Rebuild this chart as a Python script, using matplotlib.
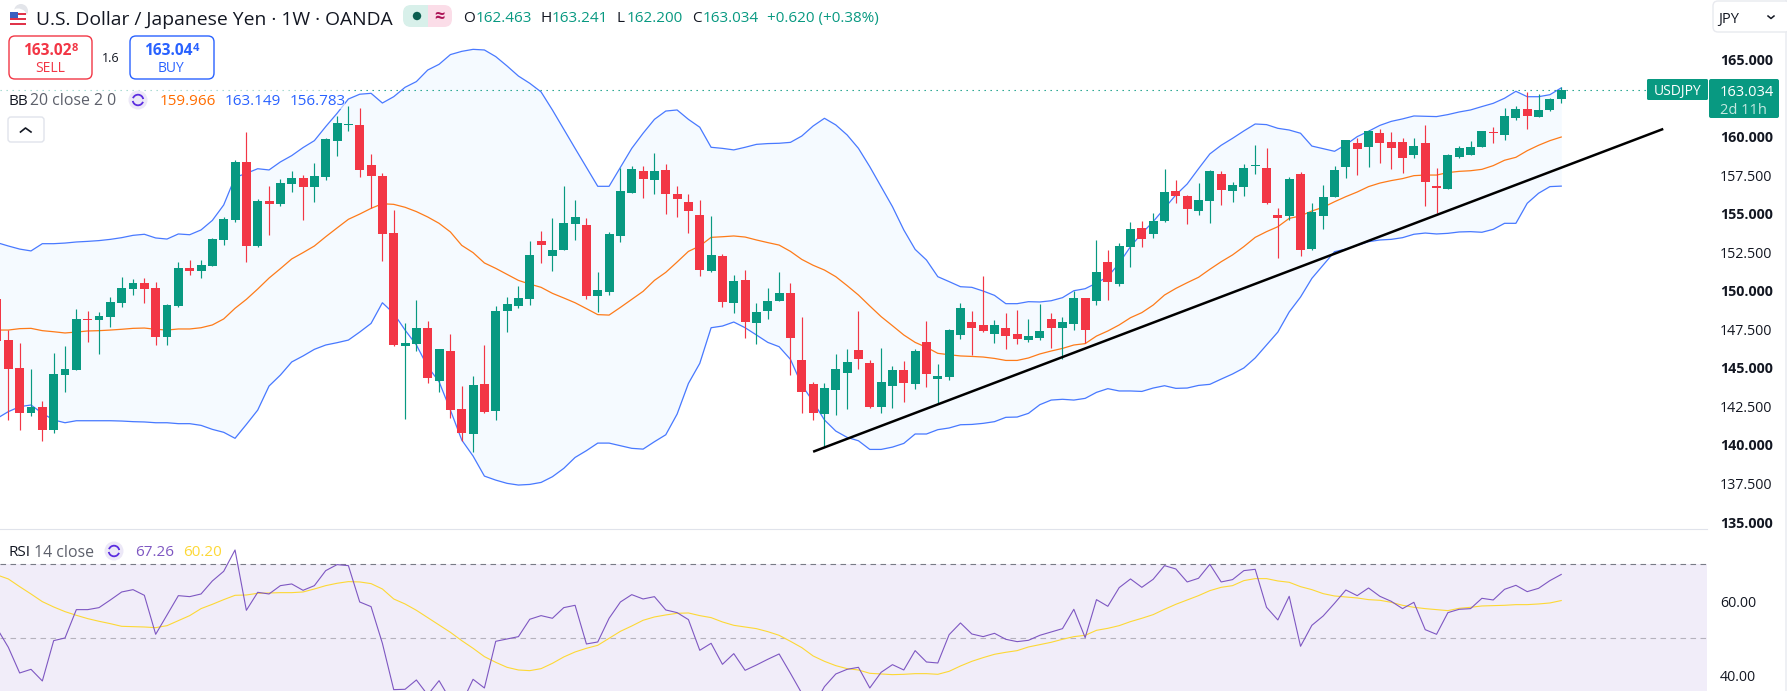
import numpy as np
import matplotlib
matplotlib.use("Agg")
import matplotlib.pyplot as plt
from matplotlib.patches import FancyBboxPatch, Rectangle, Circle, Wedge

# Weekly USD/JPY candles
opens = [149.44,146.80,144.99,142.09,142.46,140.97,144.53,144.86,148.17,148.10,
148.29,149.20,150.11,150.50,150.18,147.00,149.01,151.47,151.28,151.60,
153.29,154.59,158.35,152.90,155.82,155.62,156.92,157.31,156.73,157.37,
159.71,160.75,160.75,158.15,157.44,153.74,146.41,146.54,147.58,144.14,
146.09,142.33,140.71,143.95,142.20,148.68,149.01,149.46,153.22,152.25,
152.64,154.33,154.26,149.66,149.92,153.55,156.34,157.76,157.18,157.83,
156.27,155.75,154.91,151.28,152.25,149.20,150.69,147.91,148.68,149.33,
149.85,145.51,143.95,142.00,143.56,144.66,146.15,145.31,142.46,143.82,
144.86,143.95,146.67,144.27,144.40,147.13,147.97,147.78,147.19,147.58,
147.19,146.80,146.93,148.17,147.58,147.84,149.53,149.33,151.86,150.43,
152.83,154.07,153.68,154.52,156.47,156.14,155.17,155.82,157.57,156.47,
156.73,158.09,157.96,154.91,154.85,157.57,152.70,154.85,156.08,158.02,
159.58,159.32,160.23,159.64,159.64,158.80,159.58,156.79,156.60,158.67,
158.80,159.32,160.29,160.10,161.20,161.78,161.27,161.72,162.463]
highs = [150.05,147.45,146.59,144.90,142.85,145.94,146.41,148.81,148.68,148.62,
149.59,150.89,150.76,150.82,150.57,149.14,151.86,151.99,151.99,153.42,
154.78,158.48,160.29,155.95,156.79,157.24,157.76,157.50,158.28,159.90,
161.33,161.98,161.85,158.87,157.63,155.23,147.91,149.40,148.04,146.22,
147.19,143.82,144.47,146.48,149.01,149.59,150.31,153.22,153.87,154.72,
156.79,155.88,154.72,151.21,153.81,157.96,158.09,158.09,158.93,158.22,
156.79,156.27,155.88,154.85,152.38,151.02,151.34,149.20,150.18,151.21,
150.50,148.29,144.08,144.02,145.90,146.22,148.68,145.51,146.28,145.12,
145.44,146.22,148.04,145.25,147.52,149.20,148.68,150.95,148.10,148.55,
148.75,148.17,149.14,148.55,148.29,149.98,149.53,153.29,152.64,153.09,
154.46,154.52,155.04,157.89,157.18,156.21,156.98,157.83,157.76,157.05,
158.22,159.45,159.25,155.36,157.37,157.70,155.69,156.86,158.09,159.77,
159.90,160.42,160.49,160.29,159.90,159.90,160.75,157.96,158.87,159.38,
159.71,160.36,160.62,161.85,161.98,162.89,162.76,162.50,163.241]
lows = [146.37,141.62,140.97,141.87,140.27,140.79,143.43,144.86,146.67,145.90,
147.65,148.94,149.72,149.20,146.48,146.48,148.94,151.02,150.82,151.60,
152.96,154.46,151.86,152.83,153.61,155.49,156.40,154.59,155.75,157.18,
158.74,160.36,157.37,155.36,151.93,146.41,141.68,146.09,144.02,143.43,
141.74,140.27,139.56,142.07,141.62,147.32,148.88,149.07,151.80,151.28,
152.64,153.29,149.46,148.62,149.72,153.16,156.34,156.01,156.27,154.97,
154.78,153.74,150.95,151.21,148.94,148.55,146.93,146.54,148.17,149.33,
144.53,142.07,141.62,139.86,141.94,142.33,144.92,142.39,142.07,142.39,
142.78,143.63,143.76,142.65,144.21,146.87,145.83,147.32,146.61,146.22,
146.54,146.67,146.80,146.28,145.57,147.45,146.61,149.07,149.40,150.31,
151.54,152.83,153.42,154.46,155.69,154.33,154.91,154.39,155.56,155.75,
156.14,157.57,155.62,152.12,154.59,152.25,152.64,154.00,156.08,157.31,
157.50,158.02,158.28,157.89,157.63,158.61,155.49,155.04,156.60,158.61,
158.80,159.32,159.58,159.77,161.07,160.49,161.27,161.65,162.200]
closes = [146.74,144.94,142.09,142.46,140.97,144.60,144.92,148.17,148.10,148.36,
149.27,150.18,150.50,150.11,147.00,149.07,151.47,151.28,151.67,153.35,
154.65,158.35,152.90,155.82,155.62,156.98,157.31,156.73,157.44,159.84,
160.88,160.81,157.83,157.44,153.68,146.48,146.61,147.58,144.34,146.22,
142.26,140.77,143.89,142.13,148.68,149.14,149.53,152.32,152.96,152.64,
154.39,154.78,149.66,150.05,153.68,156.47,157.89,157.24,157.76,156.27,
155.95,155.17,151.34,152.32,149.27,150.63,147.97,148.62,149.33,149.85,
146.93,143.43,142.07,143.69,144.92,145.38,145.57,142.46,144.08,144.86,
144.02,146.09,144.60,144.47,147.45,148.88,147.58,147.39,147.78,147.06,
146.87,147.06,147.39,147.58,147.97,149.53,147.45,151.21,150.57,152.90,
154.00,153.35,154.52,156.40,156.14,155.30,155.88,157.76,156.53,156.86,
157.96,158.15,155.69,154.72,157.24,152.64,155.10,156.08,157.83,159.77,
159.19,160.36,159.58,159.25,158.61,159.38,157.05,156.66,158.80,159.25,
159.32,160.36,160.23,161.33,161.78,161.33,161.72,162.43,163.034]

# Bollinger Bands (20, close, 2)
bb_upper = [153.12,152.90,152.70,152.58,153.05,153.05,153.09,153.16,153.20,153.25,
153.33,153.44,153.59,153.66,153.42,153.35,153.68,153.63,153.94,154.56,
155.56,157.35,157.61,157.91,157.83,158.35,158.76,159.28,159.73,160.64,
161.50,162.43,162.74,162.80,162.17,162.58,163.19,163.56,164.31,164.68,
165.31,165.52,165.65,165.61,165.18,164.57,163.92,163.45,162.89,161.72,
160.47,159.23,158.00,156.77,156.77,158.00,159.23,160.21,161.11,161.65,
161.72,161.11,160.60,159.30,159.23,159.13,159.30,159.49,159.54,159.56,
159.62,160.03,160.68,161.18,160.75,160.10,159.23,158.04,156.75,155.45,
153.94,152.68,151.99,150.91,150.59,150.26,150.22,149.98,149.70,149.16,
149.16,149.29,149.27,149.35,149.55,150.00,150.13,150.50,150.91,151.78,
152.86,153.72,154.48,155.34,156.21,156.92,157.91,158.87,159.43,159.88,
160.36,160.81,160.77,160.53,160.42,160.21,159.38,159.21,159.04,159.47,
159.99,160.34,160.72,160.98,161.14,161.33,161.31,161.29,161.42,161.59,
161.72,161.94,162.15,162.48,162.93,162.58,162.58,162.71,163.149]
bb_basis = [147.45,147.45,147.54,147.56,147.41,147.34,147.26,147.32,147.39,147.41,
147.45,147.50,147.56,147.58,147.50,147.45,147.52,147.52,147.60,147.78,
148.17,148.86,149.44,150.11,150.82,151.43,152.06,152.47,152.90,153.50,
154.07,154.63,154.97,155.34,155.64,155.60,155.41,155.13,154.78,154.37,
153.81,152.94,152.47,151.80,151.45,151.06,150.67,150.43,150.22,149.83,
149.53,149.22,148.84,148.45,148.42,148.92,149.44,149.96,150.67,151.19,
151.86,152.55,152.90,153.46,153.50,153.55,153.48,153.29,153.12,152.96,
152.55,152.03,151.65,151.34,150.91,150.33,149.72,149.01,148.32,147.73,
147.13,146.65,146.33,145.94,145.85,145.77,145.74,145.70,145.61,145.48,
145.48,145.64,145.90,146.09,146.26,146.48,146.57,147.06,147.39,147.78,
148.25,148.58,149.07,149.72,150.15,150.52,150.87,151.39,151.88,152.32,
152.86,153.46,153.83,154.15,154.69,154.85,155.17,155.41,155.77,156.10,
156.40,156.75,156.98,157.14,157.27,157.46,157.50,157.50,157.66,157.74,
157.78,157.87,158.11,158.46,158.65,159.08,159.43,159.73,159.966]
bb_lower = [141.72,142.16,142.48,142.59,142.05,141.62,141.44,141.57,141.57,141.57,
141.57,141.55,141.51,141.49,141.44,141.44,141.38,141.38,141.27,141.01,
140.82,140.43,141.33,142.26,143.82,144.53,145.38,145.77,146.20,146.48,
146.63,146.80,147.32,147.88,149.22,148.53,147.45,146.48,145.07,144.10,
142.26,140.32,139.28,137.98,137.72,137.51,137.40,137.44,137.57,137.94,
138.48,139.19,139.63,140.12,140.12,139.95,139.78,139.73,140.21,140.66,
142.00,143.99,145.29,147.60,147.71,147.97,147.60,147.13,146.65,146.37,
145.55,143.89,142.80,141.62,140.90,140.49,140.27,139.71,139.71,139.86,
140.10,140.71,140.71,140.99,141.10,141.31,141.33,141.40,141.51,141.79,
141.81,142.05,142.61,142.91,142.96,142.91,143.02,143.41,143.65,143.50,
143.50,143.47,143.69,143.84,143.67,143.69,143.86,143.93,144.27,144.60,
144.99,145.64,146.48,147.32,148.62,149.59,150.80,151.67,152.53,152.70,
152.94,153.18,153.29,153.33,153.44,153.66,153.74,153.68,153.72,153.81,
153.83,153.79,153.98,154.37,154.37,155.67,156.32,156.75,156.783]

# RSI (14, close) and its moving average
rsi_values = [52.70,47.57,40.63,41.62,38.47,49.37,50.09,57.75,57.75,58.29,
60.36,62.52,63.15,61.62,51.08,56.31,61.53,61.26,61.98,65.50,
68.11,73.87,57.57,62.43,61.98,64.23,64.69,62.97,64.23,68.29,
69.91,69.64,59.82,58.56,48.65,36.13,36.22,38.74,34.69,38.56,
33.33,32.43,38.92,36.58,49.19,49.82,50.45,55.14,56.13,55.41,
58.29,58.92,48.47,49.01,55.41,59.82,61.80,60.63,61.26,57.66,
56.94,55.05,46.76,48.65,42.97,45.86,41.35,42.79,44.33,45.77,
40.54,35.14,31.53,36.94,40.36,41.62,42.16,36.58,40.81,42.88,
41.44,46.67,43.60,43.33,50.99,54.15,51.17,50.45,51.35,49.73,
49.10,49.46,50.81,51.71,52.61,57.84,50.18,60.45,58.65,63.69,
66.04,63.78,65.95,69.64,68.74,65.23,66.22,70.00,65.23,65.86,
68.29,68.65,58.38,54.96,61.35,47.84,53.51,56.04,59.46,63.06,
61.53,63.60,61.35,60.00,58.02,59.73,52.34,51.08,56.94,57.84,
58.02,60.81,60.36,63.24,64.32,62.61,63.51,65.59,67.26]
rsi_ma = [67.12,66.04,63.96,61.98,59.91,58.47,57.21,56.22,55.32,54.60,
53.96,53.24,53.15,53.06,52.88,53.42,54.78,56.13,58.02,59.19,
60.45,61.62,61.71,62.16,62.25,62.34,62.34,62.52,63.33,64.23,
64.87,65.32,65.23,64.78,63.33,60.63,59.28,57.57,55.59,53.60,
51.62,49.37,47.30,45.05,43.51,42.16,41.44,41.26,41.80,43.24,
44.96,46.31,47.30,48.11,50.00,51.89,53.33,54.87,55.77,56.31,
56.76,56.85,56.13,55.59,54.42,53.51,53.06,52.61,51.80,50.81,
49.19,47.48,45.23,43.78,42.61,41.80,41.44,40.54,40.36,40.18,
40.27,40.45,40.45,40.27,41.08,42.52,43.78,44.78,45.68,46.22,
46.67,47.66,48.29,48.92,49.73,50.45,50.81,52.16,52.70,53.42,
54.51,55.41,56.40,57.84,59.19,60.36,61.53,62.88,63.78,64.23,
65.59,66.13,66.13,65.50,65.14,63.96,63.15,62.07,61.44,61.17,
60.90,60.45,60.27,59.73,58.92,58.38,58.02,57.75,57.48,58.11,
58.38,58.74,58.83,58.92,59.10,59.10,59.28,59.55,60.20]

# Hand-drawn support trend line (bar index, price)
trend_bars = [72, 147]
trend_prices = [139.56, 160.49]

last_price = 163.034
price_ticks = [165, 160, 157.5, 155, 152.5, 150, 147.5, 145, 142.5, 140, 137.5, 135]
rsi_ticks = [60, 40]
rsi_bands = [70, 50]

GREEN = "#089981"
RED = "#f23645"
BLUE = "#2962ff"
ORANGE = "#ff6d00"
PURPLE = "#7e57c2"
YELLOW = "#fdd835"
FONT = ["Open Sans", "DejaVu Sans"]
plt.rcParams["font.family"] = FONT

W, H = 1787, 691
fig = plt.figure(figsize=(W / 100, H / 100), dpi=100, facecolor="white")

AX_RIGHT = 1707
SPLIT = 529
ax = fig.add_axes([0, 1 - SPLIT / H, AX_RIGHT / W, SPLIT / H])
ax_rsi = fig.add_axes([0, 0, AX_RIGHT / W, (H - SPLIT - 1) / H], sharex=ax)

bars = np.arange(len(closes))
o, h, l, c = map(np.array, (opens, highs, lows, closes))
colors = [GREEN if ce >= op else RED for op, ce in zip(o, c)]

ax.set_xlim(0.265, 150.86)
ax.set_ylim(134.55, 168.85)

# Band fill and lines sit under the candles
ax.fill_between(bars, bb_lower, bb_upper, color="#f5faff", lw=0, zorder=1)
ax.axhline(last_price, color=GREEN, lw=0.8, ls=(0, (1.2, 4.2)), zorder=1.5)
ax.plot(bars, bb_upper, color=BLUE, lw=0.9, alpha=0.85, zorder=2)
ax.plot(bars, bb_lower, color=BLUE, lw=0.9, alpha=0.85, zorder=2)
ax.plot(bars, bb_basis, color=ORANGE, lw=0.9, alpha=0.9, zorder=2)

# Candles: wick first, then the body
ax.vlines(bars, l, h, colors=colors, lw=0.85, zorder=3)
body = np.maximum(np.abs(c - o), 0.07)
ax.bar(bars, body, bottom=np.minimum(o, c), width=0.79, color=colors, lw=0, zorder=3.5)

ax.plot(trend_bars, trend_prices, color="black", lw=1.8, zorder=4, solid_capstyle="butt")

# Price scale on the right
ax.yaxis.tick_right()
ax.set_yticks(price_ticks)
ax.set_yticklabels([f"{t:.3f}" for t in price_ticks], fontsize=10.3, color="#131722")
for t, lab in zip(price_ticks, ax.get_yticklabels()):
    if t % 5 == 0:
        lab.set_fontweight("bold")
ax.tick_params(axis="y", length=0, pad=9.5)
ax.tick_params(axis="x", length=0, labelbottom=False)
for s in ax.spines.values():
    s.set_visible(False)

# RSI pane
ax_rsi.set_ylim(35.76, 79.27)
ax_rsi.axhspan(30, 70, color="#f1edf9", lw=0, zorder=1)
ax_rsi.axhline(rsi_bands[0], color="#787b86", lw=0.8, ls=(0, (5, 4)), zorder=1.5)
ax_rsi.axhline(rsi_bands[1], color="#b5b2bd", lw=0.8, ls=(0, (5, 4)), zorder=1.5)
ax_rsi.plot(bars, rsi_values, color=PURPLE, lw=0.8, zorder=2.5)
ax_rsi.plot(bars, rsi_ma, color=YELLOW, lw=0.8, zorder=2)
ax_rsi.yaxis.tick_right()
ax_rsi.set_yticks(rsi_ticks)
ax_rsi.set_yticklabels([f"{t:.2f}" for t in rsi_ticks], fontsize=10.3, color="#131722")
ax_rsi.tick_params(axis="y", length=0, pad=9.5)
ax_rsi.tick_params(axis="x", length=0, labelbottom=False)
for s in ax_rsi.spines.values():
    s.set_visible(False)

# Overlay in pixel coordinates for the interface furniture
ov = fig.add_axes([0, 0, 1, 1], zorder=10)
ov.set_xlim(0, W)
ov.set_ylim(H, 0)
ov.axis("off")
ov.patch.set_alpha(0)


def label(x, y, s, size=10, color="#131722", weight="normal", ha="left"):
    ov.text(x, y, s, fontsize=size, color=color, fontweight=weight, ha=ha, va="center_baseline")


def rbox(x0, y0, x1, y1, r=5, fc="white", ec="none", lw=1.0):
    ov.add_patch(FancyBboxPatch((x0 + r, y0 + r), x1 - x0 - 2 * r, y1 - y0 - 2 * r,
                                boxstyle=f"round,pad={r},rounding_size={r}",
                                fc=fc, ec=ec, lw=lw, mutation_aspect=1))


def refresh_icon(x, y):
    ov.add_patch(Circle((x, y), 9.5, fc="#ece8f7", ec="none"))
    ov.add_patch(Wedge((x, y), 6.2, 20, 170, width=1.8, fc="#5b2de0", ec="none"))
    ov.add_patch(Wedge((x, y), 6.2, 200, 350, width=1.8, fc="#5b2de0", ec="none"))


# Separator between panes and right-hand strip
ov.plot([0, AX_RIGHT], [SPLIT, SPLIT], color="#e0e3eb", lw=0.8)
ov.add_patch(Rectangle((1785, 0), 2, H, fc="#eef0f4", ec="none"))

# Soft backdrop behind the indicator legends
ov.add_patch(Rectangle((0, 89), 345, 20, fc="white", ec="none", alpha=0.6))
ov.add_patch(Rectangle((0, 541), 225, 20, fc="white", ec="none", alpha=0.6))

# Header: flag, title, status pill, OHLC readout
ov.add_patch(Circle((21, 11), 7, fc="#e3e5ea", ec="none"))
ov.add_patch(Circle((18, 18), 9.5, fc="white", ec="none"))
for yy in (12.5, 17.5, 22.5):
    ov.add_patch(Rectangle((10, yy), 16, 2.4, fc="#e0344a", ec="none"))
ov.add_patch(Rectangle((10, 12), 8, 6, fc="#3b5fc0", ec="none"))

label(36, 17.5, "U.S. Dollar / Japanese Yen · 1W · OANDA", size=13.9)
rbox(403, 5, 430, 27, r=8, fc="#d8f0ea")
rbox(426, 5, 452, 27, r=8, fc="#fbdde8")
ov.add_patch(Rectangle((420, 5), 8, 22, fc="#d8f0ea", ec="none"))
ov.add_patch(Rectangle((428, 5), 8, 22, fc="#fbdde8", ec="none"))
ov.add_patch(Circle((417, 16), 4.2, fc="#0b5e50", ec="none"))
label(439, 15, "≈", size=13, color="#ad1457", weight="bold", ha="center")

for x, s, col in [(463, "O", "#131722"), (476, "162.463", GREEN),
                  (541, "H", "#131722"), (552, "163.241", GREEN),
                  (617, "L", "#131722"), (627, "162.200", GREEN),
                  (692, "C", "#131722"), (703, "163.034", GREEN),
                  (767, "+0.620 (+0.38%)", GREEN)]:
    label(x, 16.5, s, size=11, color=col)

# Sell and buy buttons
rbox(9, 36, 92, 79, r=6, ec=RED, lw=1.0)
rbox(130, 36, 214, 79, r=6, ec=BLUE, lw=1.0)
label(23, 49, "163.02", size=11.2, color=RED, weight="bold")
label(72, 47, "8", size=8, color=RED, weight="bold")
label(50, 66, "SELL", size=10, color=RED, ha="center")
label(111, 57, "1.6", size=9, ha="center")
label(144, 49, "163.04", size=11.2, color=BLUE, weight="bold")
label(193, 47, "4", size=8, color=BLUE, weight="bold")
label(171, 66, "BUY", size=10, color=BLUE, ha="center")

# Bollinger legend
label(8, 99, "BB", size=11)
label(30, 99, "20 close 2 0", size=11.4, color="#5d606b")
refresh_icon(138, 100)
label(160, 99, "159.966", size=11, color=ORANGE)
label(225, 99, "163.149", size=11, color=BLUE)
label(290, 99, "156.783", size=11, color=BLUE)

# Collapse button
rbox(8, 117, 44, 142, r=3, ec="#e0e3eb", lw=1.0)
ov.plot([20.5, 25.5, 31], [132, 128, 132], color="#131722", lw=1.2)

# Currency selector
rbox(1713, 1, 1790, 32, r=5, ec="#e8eaef", lw=1.0)
label(1718, 17, "JPY", size=10.5)
ov.plot([1768, 1771, 1774], [16, 18.5, 16], color="#131722", lw=1.1)

# Last price badges
rbox(1647, 79, 1708, 100, r=1.5, fc=GREEN)
label(1677.5, 89.5, "USDJPY", size=10, color="white", ha="center")
rbox(1709, 79, 1779, 118, r=2, fc=GREEN)
label(1720, 90, "163.034", size=10.5, color="white")
label(1720, 108, "2d 11h", size=10.5, color="#c4e8e1")

# RSI legend
label(8, 551, "RSI", size=11)
label(34, 551, "14 close", size=11.4, color="#5d606b")
refresh_icon(114, 551)
label(135, 551, "67.26", size=11, color=PURPLE)
label(183, 551, "60.20", size=11, color=YELLOW)

fig.savefig("out.png", dpi=100)
